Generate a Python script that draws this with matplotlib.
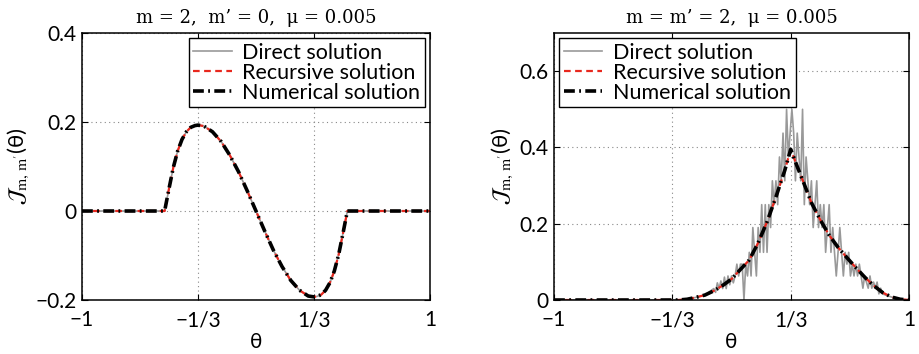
import numpy as np
import matplotlib.pyplot as plt

# --- left panel: m=2, m'=0 (all three solutions coincide) ---
theta_a = [-1.0, -0.525, -0.5, -0.475, -0.45, -0.425, -0.4, -0.375, -0.35, -1/3,
           -0.3, -0.25, -0.2, -0.15, -0.1, -0.05, 0.0,
           0.05, 0.1, 0.15, 0.2, 0.25, 0.3, 1/3,
           0.35, 0.375, 0.4, 0.425, 0.45, 0.475, 0.5, 0.525, 1.0]
curve_a = [0.0, 0.0, 0.05, 0.098, 0.135, 0.161, 0.178, 0.188, 0.192, 0.193,
           0.191, 0.178, 0.156, 0.125, 0.088, 0.045, 0.0,
           -0.045, -0.088, -0.125, -0.156, -0.178, -0.191, -0.193,
           -0.192, -0.188, -0.178, -0.161, -0.135, -0.098, -0.05, 0.0, 0.0]

# --- right panel: m=m'=2 ---
theta_b = [-1.0, -0.3, -0.25, -0.2, -0.15, -0.1, -0.05, 0.0, 0.05, 0.1, 0.15,
           0.2, 0.25, 0.3, 1/3, 0.37, 0.4, 0.45, 0.5, 0.55, 0.6, 0.65, 0.7,
           0.75, 0.8, 0.85, 0.9, 0.95, 1.0]
smooth_b = [0.0, 0.0, 0.002, 0.007, 0.013, 0.024, 0.038, 0.055, 0.08, 0.105, 0.15,
            0.205, 0.27, 0.34, 0.395, 0.35, 0.315, 0.255, 0.21, 0.17, 0.138, 0.111, 0.085,
            0.06, 0.038, 0.02, 0.008, 0.002, 0.0]

theta_direct_b = [-1.0, -0.3, -0.25, -0.2, -0.15,
                  -0.10, -0.09, -0.08, -0.07, -0.06, -0.05, -0.04, -0.03, -0.02, -0.01,
                  0.00, 0.01, 0.02, 0.03, 0.04, 0.05, 0.06, 0.07, 0.08, 0.09,
                  0.10, 0.11, 0.12, 0.13, 0.14, 0.15, 0.16, 0.17, 0.18, 0.19,
                  0.20, 0.21, 0.22, 0.23, 0.24, 0.25, 0.26, 0.27, 0.28, 0.29,
                  0.30, 0.31, 0.32, 0.33, 0.34, 0.35, 0.36, 0.37, 0.38, 0.39,
                  0.40, 0.41, 0.42, 0.43, 0.44, 0.45, 0.46, 0.47, 0.48, 0.49,
                  0.50, 0.51, 0.52, 0.53, 0.54, 0.55, 0.56, 0.57, 0.58, 0.59,
                  0.60, 0.61, 0.62, 0.63, 0.64, 0.65, 0.66, 0.67, 0.68, 0.69,
                  0.70, 0.71, 0.72, 0.73, 0.74, 0.75, 0.76, 0.77, 0.78, 0.79,
                  0.80, 0.81, 0.82, 0.83, 0.84, 0.85, 0.9, 0.95, 1.0]
direct_b = [0.0, 0.0, 0.002, 0.007, 0.013,
            0.03, 0.02, 0.045, 0.03, 0.05, 0.03, 0.06, 0.03, 0.063, 0.04,
            0.063, 0.045, 0.063, 0.094, 0.063, 0.094, 0.094, 0.0, 0.094, 0.063,
            0.125, 0.063, 0.19, 0.125, 0.063, 0.19, 0.125, 0.25, 0.125, 0.25,
            0.125, 0.25, 0.19, 0.3125, 0.25, 0.3125, 0.25, 0.375, 0.3125, 0.4375,
            0.3125, 0.5, 0.375, 0.4375, 0.5, 0.4375, 0.3125, 0.4375, 0.375, 0.3125,
            0.5, 0.25, 0.375, 0.3125, 0.25, 0.3125, 0.19, 0.25, 0.3125, 0.19,
            0.25, 0.19, 0.25, 0.125, 0.19, 0.25, 0.125, 0.19, 0.125, 0.063,
            0.125, 0.19, 0.125, 0.063, 0.125, 0.094, 0.125, 0.063, 0.094, 0.063,
            0.094, 0.063, 0.094, 0.063, 0.031, 0.063, 0.047, 0.031, 0.063, 0.031,
            0.047, 0.031, 0.047, 0.016, 0.031, 0.016, 0.008, 0.002, 0.0]

xtick_vals = [-1, -1/3, 1/3, 1]
xtick_text = ['\u22121', '\u22121/3', '1/3', '1']

plt.rcParams['font.family'] = ['Lato', 'DejaVu Sans']
plt.rcParams['mathtext.fontset'] = 'stix'

fig = plt.figure(figsize=(9.2, 3.54), dpi=100)
ax1 = fig.add_axes([0.0891, 0.1525, 0.3783, 0.7543])
ax2 = fig.add_axes([0.6022, 0.1525, 0.3859, 0.7543])

panels = [
    (ax1, theta_a, curve_a, theta_a, curve_a, (-0.2, 0.4), [-0.2, 0, 0.2, 0.4],
     ['\u22120.2', '0', '0.2', '0.4'], 'm = 2,  m\u2019 = 0,  \u03bc = 0.005', 'upper right'),
    (ax2, theta_direct_b, direct_b, theta_b, smooth_b, (0, 0.7), [0, 0.2, 0.4, 0.6],
     ['0', '0.2', '0.4', '0.6'], 'm = m\u2019 = 2,  \u03bc = 0.005', 'upper left'),
]

ylab = r'$\mathcal{J}_{\mathrm{m,\,m^{\prime}}}$' + '(\u03b8)'

for ax, xd, yd, xs, ys, ylim, yt, ytl, title, loc in panels:
    ax.plot(xd, yd, color='#999999', lw=1.2, label='Direct solution')
    ax.plot(xs, ys, color='#e8281e', lw=1.6, ls=(0, (3, 2)), label='Recursive solution')
    ax.plot(xs, ys, color='black', lw=2.6, ls=(0, (3.0, 1.2, 0.5, 1.2)),
            label='Numerical solution')
    ax.set_xlim(-1, 1)
    ax.set_ylim(*ylim)
    ax.set_xticks(xtick_vals)
    ax.set_xticklabels(xtick_text)
    ax.set_yticks(yt)
    ax.set_yticklabels(ytl)
    ax.tick_params(direction='in', top=True, right=True, length=4, labelsize=15,
                   width=0.8)
    ax.tick_params(axis='x', pad=7.5)
    ax.tick_params(axis='y', pad=4)
    ax.grid(True, color='#888888', ls=(0, (1, 3)), lw=0.8)
    for s in ax.spines.values():
        s.set_linewidth(1.1)
    ax.set_title(title, family='DejaVu Serif', fontsize=13, pad=7)
    ax.set_xlabel('\u03b8', fontsize=15, labelpad=1)
    ax.set_ylabel(ylab, fontsize=16, labelpad=3)
    leg = ax.legend(loc=loc, fontsize=15.5, frameon=True, fancybox=False,
                    edgecolor='black', framealpha=1, handlelength=1.8,
                    handletextpad=0.5, labelspacing=0.0, borderpad=0.2,
                    borderaxespad=0.25)
    leg.get_frame().set_linewidth(1.0)

fig.savefig('out.png', dpi=100)
